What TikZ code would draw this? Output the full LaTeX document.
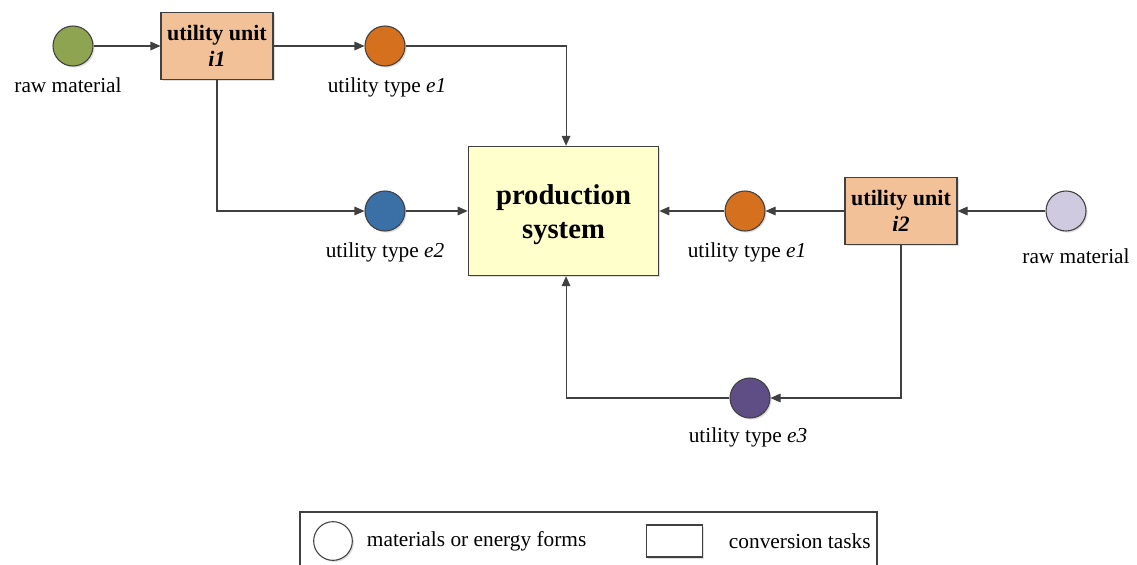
\documentclass[tikz,border=0pt]{standalone}
\usepackage{fontspec}
\setmainfont{Liberation Serif}
\usetikzlibrary{arrows.meta,shadows}

\definecolor{rawgreen}{RGB}{143,164,80}
\definecolor{rawlilac}{RGB}{208,202,224}
\definecolor{eorange}{RGB}{212,112,30}
\definecolor{eblue}{RGB}{58,112,166}
\definecolor{epurple}{RGB}{95,78,133}
\definecolor{unitfill}{RGB}{242,193,152}
\definecolor{prodfill}{RGB}{255,255,204}
\definecolor{linegray}{RGB}{64,64,64}

\begin{document}
\begin{tikzpicture}[x=0.75pt,y=-0.75pt,font=\fontsize{16}{18}\selectfont,
  >={Triangle[length=7.5pt,width=6.5pt]},draw=linegray,line width=0.8pt]
\tikzstyle{flow}=[->,draw=linegray]
\tikzstyle{form}=[circle,draw=linegray,minimum size=30pt,inner sep=0pt,
  drop shadow={shadow xshift=1.2pt,shadow yshift=-1.2pt,opacity=0.25}]
\tikzstyle{task}=[rectangle,draw=linegray,fill=unitfill,align=center,
  minimum width=84pt,minimum height=50pt,inner sep=1pt,font=\fontsize{16.5}{20}\selectfont\bfseries,
  drop shadow={shadow xshift=1.2pt,shadow yshift=-1.2pt,opacity=0.25}]
\tikzstyle{annot}=[anchor=north,inner sep=1pt]

\useasboundingbox (0,0) rectangle (1137,564);

% Materials and energy forms
\foreach \name/\x/\y/\col in {R1/73/46/rawgreen, E1a/385/46/eorange, E2/385/211/eblue,
  E1b/745/211/eorange, R2/1066/211/rawlilac, E3/750/398/epurple}
\node[form, fill=\col] (\name) at (\x,\y) {};

% Conversion tasks
\node[task] (U1) at (217,46) {utility unit\\\textit{i1}};
\node[task] (U2) at (901,211) {utility unit\\\textit{i2}};
\node[task, fill=prodfill, minimum width=143pt, minimum height=97pt,
  font=\fontsize{21.5}{25.5}\selectfont\bfseries] (P) at (563.5,211)
  {\rule{0pt}{21pt}production\\system};

% Labels
\node[annot] (l-R1) at (68,76) {raw material};
\node[annot] (l-E1a) at (387,76) {utility type \textit{e1}};
\node[annot] (l-E2) at (385,241) {utility type \textit{e2}};
\node[annot] (l-E1b) at (747,241) {utility type \textit{e1}};
\node[annot] (l-R2) at (1076,247) {raw material};
\node[annot] (l-E3) at (748,426) {utility type \textit{e3}};

% Connections
\draw[flow] (R1) -- (U1);
\draw[flow] (U1) -- (E1a);
\draw[flow] (E1a.east) -| ([xshift=1.9pt]P.north);
\draw[flow] (U1.south) |- (E2.west);
\draw[flow] (E2) -- (P);
\draw[flow] (R2) -- (U2);
\draw[flow] (U2) -- (E1b);
\draw[flow] (E1b) -- (P);
\draw[flow] (U2.south) |- (E3.east);
\draw[flow] (E3.west) -| ([xshift=1.9pt]P.south);

% Legend
\draw[linegray] (300,512) rectangle (877,580);
\node[form, fill=white, minimum size=29pt] (leg-form) at (333,541) {};
\node[task, fill=white, minimum width=42pt, minimum height=24pt] (leg-task) at (674.5,541) {};
\node[anchor=west] (leg-form-text) at (362,541) {materials or energy forms};
\node[anchor=west] (leg-task-text) at (724,541) {conversion tasks};
\end{tikzpicture}
\end{document}
